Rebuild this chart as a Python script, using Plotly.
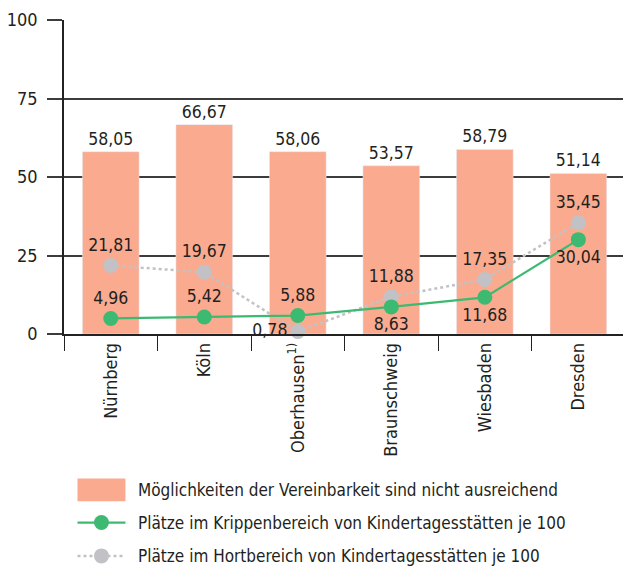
import plotly.graph_objects as go

# Städte und Kennzahlen
cities = ["Nürnberg", "Köln", "Oberhausen<sup>1)</sup>", "Braunschweig", "Wiesbaden", "Dresden"]
vereinbarkeit = [58.05, 66.67, 58.06, 53.57, 58.79, 51.14]
krippe = [4.96, 5.42, 5.88, 8.63, 11.68, 30.04]
hort = [21.81, 19.67, 0.78, 11.88, 17.35, 35.45]

krippe_pos = ["top center", "top center", "top center", "bottom center", "bottom center", "bottom center"]
hort_pos = ["top center", "top center", "middle left", "top center", "top center", "top center"]

y_ticks = [0, 25, 50, 75, 100]

legend_labels = [
    "Möglichkeiten der Vereinbarkeit sind nicht ausreichend",
    "Plätze im Krippenbereich von Kindertagesstätten je 100",
    "Plätze im Hortbereich von Kindertagesstätten je 100",
]

FONT = "DejaVu Sans Condensed, sans-serif"
TXT = "#231f20"
BAR = "#f9aa8f"
GREEN = "#3dba72"
GRAY = "#c2c2c6"
GRID = "#3c3c3c"
FS = 17.5


def de(v):
    return f"{v:.2f}".replace(".", ",")


W, H = 623, 572
L, T, B = 63.5, 19.6, 334.3

fig = go.Figure()

fig.add_trace(go.Bar(
    x=cities, y=vereinbarkeit, marker_color=BAR, width=0.606,
    text=[de(v) for v in vereinbarkeit], textposition="outside",
    textfont=dict(family=FONT, size=FS, color=TXT), cliponaxis=False,
    showlegend=False,
))

fig.add_trace(go.Scatter(
    x=cities, y=hort, mode="lines+markers+text",
    line=dict(color=GRAY, width=2.5, dash="dot"),
    marker=dict(color=GRAY, size=15),
    text=[de(v) for v in hort], textposition=hort_pos,
    textfont=dict(family=FONT, size=FS, color=TXT), cliponaxis=False,
    showlegend=False,
))

fig.add_trace(go.Scatter(
    x=cities, y=krippe, mode="lines+markers+text",
    line=dict(color=GREEN, width=2.2),
    marker=dict(color=GREEN, size=15),
    text=[de(v) for v in krippe], textposition=krippe_pos,
    textfont=dict(family=FONT, size=FS, color=TXT), cliponaxis=False,
    showlegend=False,
))

span = (W - L) / 93.6
fig.update_xaxes(
    range=[-0.5, -0.5 + span], tickson="boundaries", ticks="outside", ticklen=15,
    tickcolor="#222", tickwidth=1.2, showline=True, linecolor="#222", linewidth=1.5,
    tickangle=-90, tickfont=dict(family=FONT, size=18, color=TXT), showgrid=False,
)
fig.update_yaxes(
    range=[0, 100], tickvals=y_ticks, ticks="outside", ticklen=15, tickcolor=GRID,
    tickwidth=1.5, showline=True, linecolor="#222", linewidth=1.5,
    showgrid=True, gridcolor=GRID, gridwidth=1.5, zeroline=False,
    tickfont=dict(family=FONT, size=18, color=TXT), ticklabelstandoff=6,
)


def py(p):
    return (B - p) / (B - T)


def px(p):
    return (p - L) / (W - L)


shapes = []
annotations = []
rows = [490.5, 523.3, 556.7]

# Legende: Farbfläche
shapes.append(dict(type="rect", xref="paper", yref="paper",
                   x0=px(77), x1=px(125), y0=py(502), y1=py(479),
                   fillcolor=BAR, line_width=0))
# Legende: Linien mit Punkt
for yy, col, dash, w in [(rows[1], GREEN, "solid", 2.2), (rows[2], GRAY, "dot", 2.5)]:
    shapes.append(dict(type="line", xref="paper", yref="paper",
                       x0=px(77), x1=px(125), y0=py(yy), y1=py(yy),
                       line=dict(color=col, width=w, dash=dash)))
    shapes.append(dict(type="circle", xref="paper", yref="paper",
                       x0=px(93.5), x1=px(108.5), y0=py(yy + 7.5), y1=py(yy - 7.5),
                       fillcolor=col, line_width=0))

for yy, lab in zip(rows, legend_labels):
    annotations.append(dict(xref="paper", yref="paper", x=px(136), y=py(yy),
                            text=lab, showarrow=False, xanchor="left", yanchor="middle",
                            font=dict(family=FONT, size=17, color=TXT)))

fig.update_layout(
    width=W, height=H, margin=dict(l=L, r=0, t=T, b=H - B),
    plot_bgcolor="white", paper_bgcolor="white", bargap=0.4,
    shapes=shapes, annotations=annotations,
)

fig.write_html("out.html")
